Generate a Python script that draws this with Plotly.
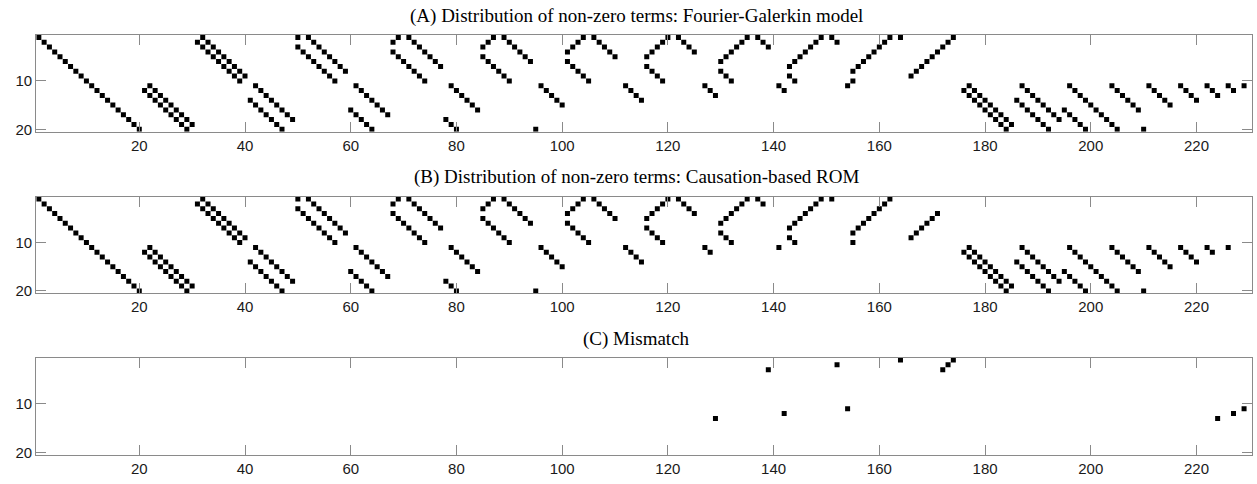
import plotly.graph_objects as go

# ---------------- data ----------------
x_tick_vals = [20, 40, 60, 80, 100, 120, 140, 160, 180, 200, 220]
y_tick_vals = [10, 20]
n_rows = 20
n_cols = 230

titles = [
    "(A) Distribution of non-zero terms: Fourier-Galerkin model",
    "(B) Distribution of non-zero terms: Causation-based ROM",
    "(C) Mismatch",
]

# Fourier-Galerkin model: for each row (equation), the columns (terms) that are non-zero
fg_row_1 = [1, 32, 50, 52, 69, 71, 87, 89, 104, 106, 120, 122, 135, 137, 149, 151, 162, 164, 174]
fg_row_2 = [2, 31, 33, 53, 68, 72, 86, 90, 103, 107, 119, 123, 134, 138, 148, 152, 161, 173]
fg_row_3 = [3, 32, 34, 50, 54, 73, 85, 91, 102, 108, 118, 124, 133, 139, 147, 160, 172]
fg_row_4 = [4, 33, 35, 51, 55, 68, 74, 92, 101, 109, 117, 125, 132, 146, 159, 171]
fg_row_5 = [5, 34, 36, 52, 56, 69, 75, 85, 93, 110, 116, 131, 145, 158, 170]
fg_row_6 = [6, 35, 37, 53, 57, 70, 76, 86, 94, 101, 130, 144, 157, 169]
fg_row_7 = [7, 36, 38, 54, 58, 71, 77, 87, 102, 116, 143, 156, 168]
fg_row_8 = [8, 37, 39, 55, 59, 72, 88, 103, 117, 130, 155, 167]
fg_row_9 = [9, 38, 40, 56, 73, 89, 104, 118, 131, 143, 166]
fg_row_10 = [10, 39, 57, 74, 90, 105, 119, 132, 144, 155]
fg_row_11 = [11, 22, 42, 61, 79, 96, 112, 127, 141, 154, 177, 187, 196, 204, 211, 217, 222, 226, 229]
fg_row_12 = [12, 21, 23, 43, 62, 80, 97, 113, 128, 142, 176, 178, 188, 197, 205, 212, 218, 223, 227]
fg_row_13 = [13, 22, 24, 44, 63, 81, 98, 114, 129, 177, 179, 189, 198, 206, 213, 219, 224]
fg_row_14 = [14, 23, 25, 41, 45, 64, 82, 99, 115, 178, 180, 186, 190, 199, 207, 214, 220]
fg_row_15 = [15, 24, 26, 42, 46, 65, 83, 100, 179, 181, 187, 191, 200, 208, 215]
fg_row_16 = [16, 25, 27, 43, 47, 60, 66, 84, 180, 182, 188, 192, 195, 201, 209]
fg_row_17 = [17, 26, 28, 44, 48, 61, 67, 181, 183, 189, 193, 196, 202]
fg_row_18 = [18, 27, 29, 45, 49, 62, 78, 182, 184, 190, 194, 197, 203]
fg_row_19 = [19, 28, 30, 46, 63, 79, 183, 185, 191, 198, 204]
fg_row_20 = [20, 29, 47, 64, 80, 95, 184, 192, 199, 205, 210]

fg_rows = [fg_row_1, fg_row_2, fg_row_3, fg_row_4, fg_row_5, fg_row_6, fg_row_7,
           fg_row_8, fg_row_9, fg_row_10, fg_row_11, fg_row_12, fg_row_13, fg_row_14,
           fg_row_15, fg_row_16, fg_row_17, fg_row_18, fg_row_19, fg_row_20]

# terms present in the Fourier-Galerkin model but absent in the causation-based ROM
mismatch_cols = [129, 139, 142, 152, 154, 164, 172, 173, 174, 224, 227, 229]
mismatch_rows = [13, 3, 12, 2, 11, 1, 3, 2, 1, 13, 12, 11]

# ---------------- build point lists ----------------
a_x, a_y = [], []
for r, cols in enumerate(fg_rows, start=1):
    for c in cols:
        a_x.append(c)
        a_y.append(r)

mismatch_set = set(zip(mismatch_cols, mismatch_rows))
b_x, b_y = [], []
for c, r in zip(a_x, a_y):
    if (c, r) not in mismatch_set:
        b_x.append(c)
        b_y.append(r)

panels = [(a_x, a_y), (b_x, b_y), (mismatch_cols, mismatch_rows)]

# ---------------- figure ----------------
W, H = 1257, 484
x_dom = [36.2 / W, 1252 / W]
# panel (top, bottom) in pixels
panel_px = [(35.0, 131.7), (196.7, 293.3), (357.5, 455.0)]
title_px = [16.0, 177.0, 338.5]
title_center_px = 636.0

fig = go.Figure()
axis_color = "#8a8a8a"
tick_font = dict(family="Liberation Sans, Arial, sans-serif", size=15, color="#1a1a1a")

layout_axes = {}
for i, ((px_, py_), (top, bot)) in enumerate(zip(panels, panel_px), start=1):
    sfx = "" if i == 1 else str(i)
    fig.add_trace(go.Scatter(
        x=px_, y=py_, mode="markers",
        marker=dict(symbol="square", size=5, color="black", line=dict(width=0)),
        xaxis="x" + sfx, yaxis="y" + sfx, showlegend=False, hoverinfo="x+y",
    ))
    layout_axes["xaxis" + sfx] = dict(
        domain=x_dom, range=[0.5, n_cols + 0.5], anchor="y" + sfx,
        tickmode="array", tickvals=x_tick_vals, ticks="inside", ticklen=10,
        tickcolor=axis_color, showline=True, linecolor=axis_color, linewidth=1,
        mirror="ticks", showgrid=False, zeroline=False, tickfont=tick_font,
        automargin=False,
    )
    layout_axes["yaxis" + sfx] = dict(
        domain=[1 - bot / H, 1 - top / H], range=[n_rows + 0.5, 0.5], anchor="x" + sfx,
        tickmode="array", tickvals=y_tick_vals, ticks="inside", ticklen=10,
        tickcolor=axis_color, showline=True, linecolor=axis_color, linewidth=1,
        mirror="ticks", showgrid=False, zeroline=False, tickfont=tick_font,
        automargin=False,
    )

annotations = []
for t, ty in zip(titles, title_px):
    annotations.append(dict(
        text=t, x=title_center_px / W, y=1 - ty / H, xref="paper", yref="paper",
        xanchor="center", yanchor="middle", showarrow=False,
        font=dict(family="Liberation Serif, Times New Roman, serif", size=19, color="black"),
    ))

fig.update_layout(
    width=W, height=H,
    margin=dict(l=0, r=0, t=0, b=0),
    paper_bgcolor="white", plot_bgcolor="white",
    annotations=annotations,
    **layout_axes,
)

fig.write_html("out.html")
